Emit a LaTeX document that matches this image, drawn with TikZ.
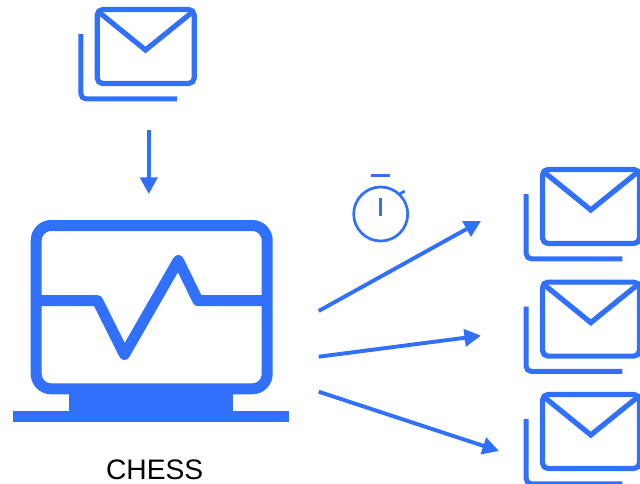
\documentclass[tikz,border=0pt]{standalone}
\usepackage{fontspec}
\setmainfont{Liberation Sans}
\usetikzlibrary{arrows.meta}
\definecolor{iconblue}{HTML}{3070FA}
\tikzset{
  iconline/.style={draw=iconblue,line width=#1,fill=none},
  flow/.style={draw=iconblue,line width=3.9pt,-{Triangle[length=16.5pt,width=17pt]}},
  envelope/.pic={
    \draw[iconline=5.2pt,rounded corners=5.5pt] (97.2,9.5) rectangle (194.2,83.5);
    \draw[iconline=5.2pt,miter limit=10] (97.5,11) -- (145.5,50) -- (193.7,11);
    \draw[iconline=5pt,rounded corners=5pt] (80.9,34) -- (80.9,98.8) -- (177,98.8);
  }
}
\begin{document}
\begin{tikzpicture}[x=1pt,y=-1pt]
  \useasboundingbox (0,0) rectangle (640,484);
  \clip (0,0) rectangle (640,484);
  % envelopes
  \pic (mailin) at (0,0) {envelope};
  \pic (mailout1) at (445.3,160) {envelope};
  \pic (mailout2) at (445.3,272.6) {envelope};
  \pic (mailout3) at (445.3,385) {envelope};
  % connector end points
  \coordinate (inStart) at (148.8,130);
  \coordinate (inEnd) at (148.8,194);
  \coordinate (outStart1) at (318.7,311);
  \coordinate (outEnd1) at (481,221);
  \coordinate (outStart2) at (318.7,356.7);
  \coordinate (outEnd2) at (481,335.7);
  \coordinate (outStart3) at (318.7,391.7);
  \coordinate (outEnd3) at (499,451);
  \draw[flow] (inStart) -- (inEnd);
  \draw[flow] (outStart1) -- (outEnd1);
  \draw[flow] (outStart2) -- (outEnd2);
  \draw[flow] (outStart3) -- (outEnd3);
  % monitor
  \draw[iconline=11pt,rounded corners=15pt] (36.2,225.5) rectangle (267.2,388.8);
  \draw[iconline=11pt,line join=round] (36.2,300.7) -- (97.5,300.7) -- (124.4,354.5) -- (178.3,260.5) -- (198,300.7) -- (267.2,300.7);
  \fill[iconblue] (69,390) rectangle (233,412);
  \fill[iconblue] (13.3,410.7) rectangle (289,422);
  \node[text=black,font=\fontsize{28.2}{30}\selectfont,inner sep=0pt,anchor=base] (chess) at (154.7,479) {CHESS};
  % stopwatch
  \draw[iconline=2.7pt] (380.7,214) circle[radius=27];
  \draw[iconline=2.8pt] (371,175.4) -- (390,175.4);
  \draw[iconline=2.8pt] (380.7,197.7) -- (380.7,216);
  \draw[iconline=2.8pt] (399.3,194.3) -- (404.7,191);
\end{tikzpicture}
\end{document}
